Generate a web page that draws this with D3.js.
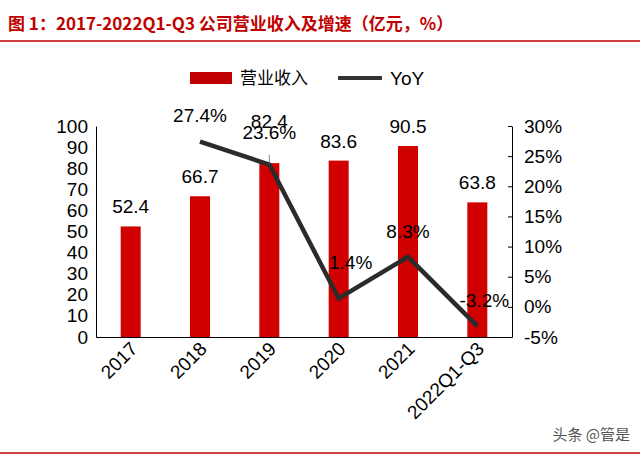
<!DOCTYPE html><html><head><meta charset="utf-8"><script src="https://cdn.jsdelivr.net/npm/d3@7"></script>
<style>body{margin:0;background:#fff}text{font-family:"Liberation Sans",Arial,sans-serif}</style></head><body><svg id="c" width="640" height="456"></svg>
<script>
const categories=["2017","2018","2019","2020","2021","2022Q1-Q3"];
const revenue=[52.4,66.7,82.4,83.6,90.5,63.8];
const yoyCats=["2018","2019","2020","2021","2022Q1-Q3"];
const yoy=[27.4,23.6,1.4,8.3,-3.2];
const leftTicks=[0,10,20,30,40,50,60,70,80,90,100];
const rightTicks=[-5,0,5,10,15,20,25,30];
const svg=d3.select("#c");
const cjk='"Noto Sans CJK SC",sans-serif';
svg.append("text").attr("x",8).attr("y",30).attr("fill","#c00000").attr("font-size",17).attr("font-weight","bold").style("font-family",cjk).text("图 1：2017-2022Q1-Q3 公司营业收入及增速（亿元，%）");
svg.append("line").attr("x1",0).attr("x2",640).attr("y1",41).attr("y2",41).attr("stroke","#c00000").attr("stroke-width",1.5);
svg.append("line").attr("x1",0).attr("x2",640).attr("y1",453).attr("y2",453).attr("stroke","#c00000").attr("stroke-width",1.5);
const x=d3.scaleBand().domain(categories).range([96,512]);
const yl=d3.scaleLinear().domain([0,100]).range([337,126]);
const yr=d3.scaleLinear().domain([-5,30]).range([337,126]);
svg.append("rect").attr("x",190).attr("y",72).attr("width",42).attr("height",12).attr("fill","#c00000");
svg.append("text").attr("x",240).attr("y",84).attr("font-size",17).style("font-family",cjk).text("营业收入");
svg.append("line").attr("x1",338).attr("x2",382).attr("y1",78).attr("y2",78).attr("stroke","#333").attr("stroke-width",4);
svg.append("text").attr("x",390).attr("y",85).attr("font-size",19).text("YoY");
svg.selectAll(".b").data(revenue).enter().append("rect").attr("x",(d,i)=>x(categories[i])+x.bandwidth()/2-10).attr("width",20).attr("y",d=>yl(d)).attr("height",d=>337-yl(d)).attr("fill","#d00000");
const boff=[-13,-13,-35,-13,-13,-13];
svg.selectAll(".bl").data(revenue).enter().append("text").attr("x",(d,i)=>x(categories[i])+x.bandwidth()/2).attr("y",(d,i)=>yl(d)+boff[i]).attr("text-anchor","middle").attr("font-size",19).text(d=>d.toFixed(1));
const la=svg.append("g").attr("transform","translate(96,0)").call(d3.axisLeft(yl).tickValues(leftTicks).tickSize(0).tickPadding(8));
la.selectAll("text").attr("font-size",19).attr("fill","#000");la.select(".domain").attr("stroke","#000");
const ra=svg.append("g").attr("transform","translate(512,0)").call(d3.axisRight(yr).tickValues(rightTicks).tickSizeInner(-4).tickSizeOuter(0).tickPadding(12).tickFormat(d=>d+"%"));
ra.selectAll("text").attr("font-size",19).attr("fill","#000");ra.selectAll("line,.domain").attr("stroke","#000");
const xa=svg.append("g").attr("transform","translate(0,337)").call(d3.axisBottom(x).tickSize(0).tickFormat(""));
xa.select(".domain").attr("stroke","#000");
svg.selectAll(".xl").data(categories).enter().append("text").attr("font-size",19).attr("text-anchor","end")
 .attr("transform",d=>`translate(${x(d)+x.bandwidth()/2+8},${350}) rotate(-45)`).text(d=>d);
const lx=d=>x(d)+x.bandwidth()/2;
svg.append("path").datum(yoy).attr("fill","none").attr("stroke","#2b2b2b").attr("stroke-width",4.5).attr("stroke-linejoin","miter")
 .attr("d",d3.line().x((d,i)=>lx(yoyCats[i])).y(d=>yr(d)));
svg.append("line").attr("x1",lx("2019")).attr("x2",lx("2019")).attr("y1",yr(23.6)).attr("y2",155).attr("stroke","#555").attr("stroke-width",0.7);
const off=[[0,-20],[0,-26],[12,-29],[0,-19],[7,-19]];
svg.selectAll(".ll").data(yoy).enter().append("text").attr("font-size",19).attr("text-anchor","middle")
 .attr("x",(d,i)=>lx(yoyCats[i])+off[i][0]).attr("y",(d,i)=>yr(d)+off[i][1]).text(d=>d.toFixed(1)+"%");
svg.append("text").attr("x",630).attr("y",440).attr("text-anchor","end").attr("font-size",15).attr("fill","#555").style("font-family",cjk).text("头条 @管是");
</script></body></html>
